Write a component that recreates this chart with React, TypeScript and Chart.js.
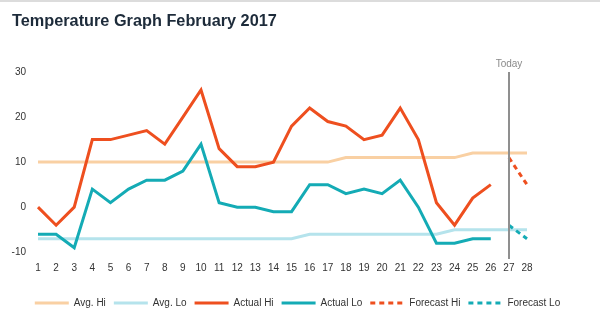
import { useEffect, useRef } from "react";
import { Chart, registerables } from "chart.js";

Chart.register(...registerables);

const days = ["1","2","3","4","5","6","7","8","9","10","11","12","13","14","15","16","17","18","19","20","21","22","23","24","25","26","27","28"];
const avgHi = [10,10,10,10,10,10,10,10,10,10,10,10,10,10,10,10,10,11,11,11,11,11,11,11,12,12,12,12];
const avgLo = [-7,-7,-7,-7,-7,-7,-7,-7,-7,-7,-7,-7,-7,-7,-7,-6,-6,-6,-6,-6,-6,-6,-6,-5,-5,-5,-5,-5];
const actualHi = [0,-4,0,15,15,16,17,14,20,26,13,9,9,10,18,22,19,18,15,16,22,15,1,-4,2,5,null,null];
const actualLo = [-6,-6,-9,4,1,4,6,6,8,14,1,0,0,-1,-1,5,5,3,4,3,6,0,-8,-8,-7,-7,null,null];
const forecastHi = [null,null,null,null,null,null,null,null,null,null,null,null,null,null,null,null,null,null,null,null,null,null,null,null,null,null,11,5];
const forecastLo = [null,null,null,null,null,null,null,null,null,null,null,null,null,null,null,null,null,null,null,null,null,null,null,null,null,null,-4,-7];
const yTicks = [-10, 0, 10, 20, 30];
const todayLabel = "27";

const FONT = "'Liberation Sans', Arial, Helvetica, sans-serif";

const todayPlugin = {
  id: "todayLine",
  afterDatasetsDraw(chart: any) {
    const { ctx, chartArea } = chart;
    const xs = chart.scales.x;
    const x = Math.round(xs.getPixelForValue(days.indexOf(todayLabel)));
    ctx.save();
    ctx.strokeStyle = "#8f8f8f";
    ctx.lineWidth = 2;
    ctx.beginPath();
    ctx.moveTo(x, chartArea.top);
    ctx.lineTo(x, chartArea.bottom);
    ctx.stroke();
    ctx.fillStyle = "#8a8a8a";
    ctx.font = "10px " + FONT;
    ctx.textAlign = "center";
    ctx.textBaseline = "middle";
    ctx.fillText("Today", x, chartArea.top - 8);
    ctx.restore();
  },
};

export default function App() {
  const ref = useRef<HTMLCanvasElement>(null);
  useEffect(() => {
    document.body.style.margin = "0";
    if (!ref.current) return;
    const chart = new Chart(ref.current, {
      type: "line",
      data: {
        labels: days,
        datasets: [
          { label: "Avg. Hi", data: avgHi, borderColor: "#f9d0a3", backgroundColor: "#f9d0a3", borderWidth: 3, pointRadius: 0, order: 10 },
          { label: "Avg. Lo", data: avgLo, borderColor: "#b5e3ec", backgroundColor: "#b5e3ec", borderWidth: 3, pointRadius: 0, order: 10 },
          { label: "Actual Hi", data: actualHi, borderColor: "#ee4f1f", backgroundColor: "#ee4f1f", borderWidth: 3, pointRadius: 0, order: 1 },
          { label: "Actual Lo", data: actualLo, borderColor: "#14abb5", backgroundColor: "#14abb5", borderWidth: 3, pointRadius: 0, order: 1 },
          { label: "Forecast Hi", data: forecastHi, borderColor: "#ee4f1f", backgroundColor: "#ee4f1f", borderWidth: 3, borderDash: [5, 4], pointRadius: 0, order: 1 },
          { label: "Forecast Lo", data: forecastLo, borderColor: "#14abb5", backgroundColor: "#14abb5", borderWidth: 3, borderDash: [5, 4], pointRadius: 0, order: 1 },
        ],
      },
      options: {
        animation: false,
        responsive: false,
        events: [],
        layout: { padding: { top: 72, left: 0, right: 5, bottom: 3 } },
        scales: {
          x: {
            type: "category",
            offset: false,
            grid: { display: false, drawTicks: false },
            border: { display: false },
            ticks: { autoSkip: false, maxRotation: 0, padding: 3, color: "#333", font: { family: FONT, size: 10 } },
            afterFit(s: any) { s.height = 31; },
          },
          y: {
            type: "linear",
            position: "left",
            min: -11.5,
            max: 30,
            grid: { display: false, drawTicks: false },
            border: { display: false },
            ticks: { padding: 12, color: "#333", font: { family: FONT, size: 10 } },
            afterBuildTicks(s: any) { s.ticks = yTicks.map((v) => ({ value: v })); },
            afterFit(s: any) { s.width = 38; },
          },
          yRight: {
            type: "linear",
            position: "right",
            display: true,
            grid: { display: false, drawTicks: false },
            border: { display: false },
            ticks: { display: false },
            afterFit(s: any) { s.width = 68; },
          },
        },
        plugins: {
          title: { display: false },
          tooltip: { enabled: false },
          legend: {
            display: true,
            position: "bottom",
            labels: {
              usePointStyle: true,
              pointStyle: "line",
              pointStyleWidth: 34,
              padding: 8,
              color: "#333",
              font: { family: FONT, size: 10 },
              generateLabels: (c: any) =>
                c.data.datasets.map((ds: any, i: number) => ({
                  text: ds.label,
                  fillStyle: ds.borderColor,
                  strokeStyle: ds.borderColor,
                  fontColor: "#333",
                  lineWidth: 3,
                  lineDash: ds.borderDash || [],
                  lineCap: "butt",
                  pointStyle: "line",
                  hidden: false,
                  datasetIndex: i,
                })),
            },
          },
        },
      } as any,
      plugins: [todayPlugin],
    });
    return () => chart.destroy();
  }, []);

  return (
    <div style={{ position: "absolute", left: 0, top: 0, width: 600, height: 321, background: "#fff" }}>
      <canvas ref={ref} width={600} height={321} style={{ position: "absolute", left: 0, top: 0 }} />
      <div style={{ position: "absolute", left: 0, top: 0, width: 600, height: 2, background: "#dcdcdc" }} />
      <div
        style={{
          position: "absolute",
          left: 12,
          top: 11,
          fontFamily: FONT,
          fontWeight: "bold",
          fontSize: 16.3,
          lineHeight: "19px",
          color: "#1d2b3a",
          whiteSpace: "nowrap",
        }}
      >
        Temperature Graph February 2017
      </div>
    </div>
  );
}
